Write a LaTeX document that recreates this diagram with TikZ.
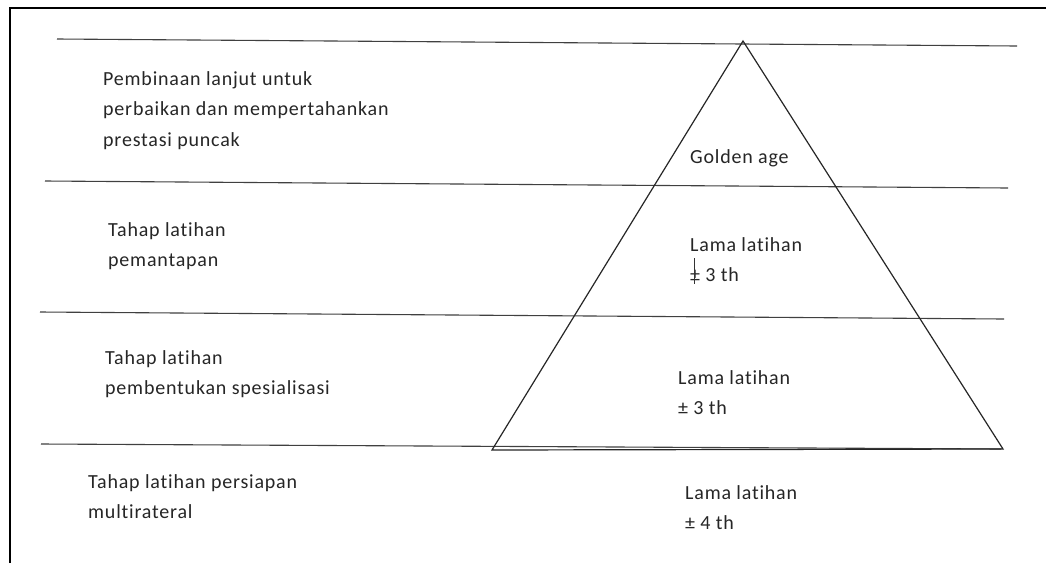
\documentclass[tikz,border=0pt]{standalone}
\usepackage{fontspec}
\setmainfont{Carlito}[Ligatures={NoCommon,NoRequired,NoContextual},LetterSpace=4]
\begin{document}
\begin{tikzpicture}[x=1pt,y=-1pt,
  lbl/.style={anchor=north west,inner sep=0pt,align=left,font=\fontsize{20}{30.5}\selectfont,text=black!85},
  rule/.style={line width=1.1pt,draw=black!75},
  tri/.style={line width=1.2pt,draw=black!85},
  frame/.style={line width=1.6pt,draw=black}]
\useasboundingbox (0,0) rectangle (1046,563);
\fill[white] (0,0) rectangle (1046,563);
% frame (top and left only)
\draw[frame] (10,563) -- (10,8) -- (1046,8);
% horizontal rules
\coordinate (r1a) at (57,39);  \coordinate (r1b) at (1017,46);
\coordinate (r2a) at (45,181); \coordinate (r2b) at (1008,188);
\coordinate (r3a) at (40,312); \coordinate (r3b) at (1004,319);
\coordinate (r4a) at (41,444); \coordinate (r4b) at (1001,449);
\draw[rule] (r1a) -- (r1b);
\draw[rule] (r2a) -- (r2b);
\draw[rule] (r3a) -- (r3b);
\draw[rule] (r4a) -- (r4b);
% triangle
\coordinate (apex) at (743,41);
\coordinate (bl) at (492,450);
\coordinate (br) at (1003,449);
\draw[tri] (bl) -- (apex) -- (br) -- cycle;
% left labels
\node[lbl] (t1) at (103,71) {Pembinaan lanjut untuk\\perbaikan dan mempertahankan\\prestasi puncak};
\node[lbl] (t2) at (108,222) {Tahap latihan\\pemantapan};
\node[lbl] (t3) at (105,350) {Tahap latihan\\pembentukan spesialisasi};
\node[lbl] (t4) at (88,474) {Tahap latihan persiapan\\multirateral};
% right labels
\node[lbl] (g) at (690,149) {Golden age};
\node[lbl] (l1) at (690,237) {Lama latihan\\± 3 th};
\node[lbl] (l2) at (678,370) {Lama latihan\\± 3 th};
\node[lbl] (l3) at (685,485) {Lama latihan\\± 4 th};
% text cursor artifact
\coordinate (c1) at (694,258); \coordinate (c2) at (694,284);
\draw[line width=0.9pt,black!80] (c1) -- (c2);
\end{tikzpicture}
\end{document}
